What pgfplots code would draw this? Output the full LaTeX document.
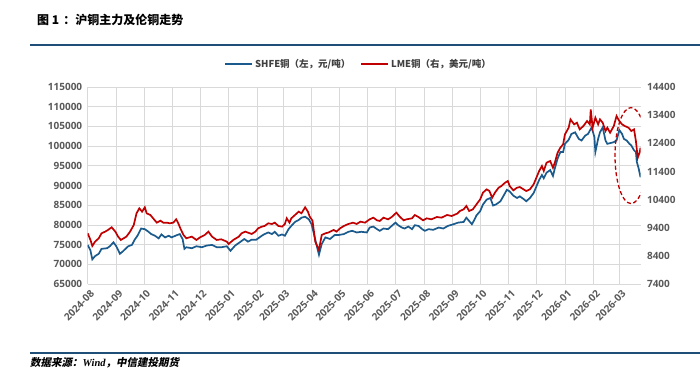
\documentclass[border=0pt]{standalone}
\usepackage{pgfplots}
\pgfplotsset{compat=1.18}
\usepackage{fontspec}
\setmainfont{Open Sans}
\newfontfamily\cjk{Noto Sans CJK SC}
\newfontfamily\cjkslant[FakeSlant=0.2]{Noto Sans CJK SC}
\newfontfamily\timesf{Liberation Serif}
\definecolor{shfe}{HTML}{1A5A8C}
\definecolor{lme}{HTML}{C00000}
\definecolor{gridc}{HTML}{D9D9D9}
\definecolor{tickc}{HTML}{595959}
\definecolor{legc}{HTML}{404040}
\definecolor{rulec}{HTML}{1F4E79}
\begin{document}
\begin{tikzpicture}
\useasboundingbox (0pt,0pt) rectangle (700pt,378pt);
\node[anchor=west, inner sep=0pt, font=\cjk\bfseries\fontsize{12}{14}\selectfont] at (37pt,358pt) {图 1\hspace{4pt}：沪铜主力及伦铜走势};
\draw[rulec, line width=2pt] (30pt,333pt) -- (700pt,333pt);
\draw[rulec, line width=2pt] (30pt,25.5pt) -- (700pt,25.5pt);
\node[anchor=west, inner sep=0pt, font=\cjkslant\bfseries\fontsize{10.5}{12}\selectfont] at (30pt,15pt) {数据来源：{\timesf\bfseries\itshape Wind}，中信建投期货};
\begin{axis}[
  at={(87.7pt,94pt)}, anchor=south west,
  width=552.8pt, height=197pt, scale only axis,
  xmin=0, xmax=600, ymin=65000, ymax=115000,
  xtick={0,31,61,92,122,153,184,212,243,273,304,334,365,396,426,457,487,518,549,577},
  xticklabels={2024-08,2024-09,2024-10,2024-11,2024-12,2025-01,2025-02,2025-03,2025-04,2025-05,2025-06,2025-07,2025-08,2025-09,2025-10,2025-11,2025-12,2026-01,2026-02,2026-03},
  ytick={65000,70000,...,115000},
  yticklabels={65000,70000,75000,80000,85000,90000,95000,100000,105000,110000,115000},
  xmajorgrids, ymajorgrids,
  grid style={gridc, line width=0.8pt},
  axis line style={draw=none},
  major tick length=0pt,
  tick label style={font=\bfseries\fontsize{10}{12}\selectfont, text=tickc},
  scaled y ticks=false,
  xticklabel style={rotate=45, anchor=east, yshift=-9pt, xshift=1pt},
  yticklabel style={xshift=-2pt},
  legend style={draw=none, fill=none, at={(axis description cs:0.49,1.115)}, anchor=center,
    font=\cjk\bfseries\fontsize{9.5}{11}\selectfont, text=legc,
    /tikz/every even column/.append style={column sep=8pt}},
  legend columns=2,
  legend image code/.code={\draw[#1] (0pt,0pt) -- (27pt,0pt);},
]
\addplot[shfe, line width=1.7pt] coordinates {
(0,74900)(3,73500)(5,71250)(8,72080)(12,72670)(15,73920)(21,74080)(24,74580)(28,75580)(31,74580)(35,72670)(38,73250)(41,73920)(44,74580)(48,74920)(51,76250)(54,77250)(58,79080)(62,78920)(66,78250)(69,77670)(73,77250)(77,76580)(80,77580)(84,76830)(88,77250)(91,76830)(97,77420)(100,77670)(103,76420)(105,73920)(107,74330)(113,74080)(118,74580)(124,74330)(129,74750)(135,74920)(140,74330)(145,74330)(151,74580)(155,73420)(160,74750)(165,75580)(170,76420)(174,75750)(178,76250)(183,76250)(189,77250)(192,77670)(196,78080)(200,77670)(203,78250)(207,77250)(211,77580)(214,77250)(218,78920)(221,79750)(225,80750)(229,81250)(232,81830)(236,82080)(240,81420)(243,80170)(246,77250)(249,74330)(251,72420)(254,75170)(258,76830)(263,76420)(268,77420)(272,77420)(278,77670)(283,78250)(287,78500)(292,78080)(297,78250)(303,78080)
(306,79330)(310,79580)(314,78920)(317,78500)(321,79080)(326,78920)(330,79750)(334,80580)(337,79920)(341,79330)(344,79080)(348,79580)(352,78920)(355,79920)(359,79750)(363,78920)(366,78500)(370,78920)(375,78750)(381,79330)(386,79080)(391,79750)(397,80170)(402,80580)(408,80750)(411,81830)(414,81000)(417,80170)(419,81000)(422,82420)(426,83500)(429,85170)(433,86420)(437,86830)(440,84920)(443,85170)(448,86000)(451,87250)(455,88920)(458,88500)(462,87420)(466,86830)(469,87250)(473,86580)(476,86000)(480,86830)(484,88080)(487,89750)(490,91420)(493,92670)(495,91830)(498,93250)(502,93920)(505,92420)(507,94330)(510,96830)(513,98500)(516,98500)(518,100580)(522,101580)(525,103080)(529,103500)(533,101830)(536,101420)(540,102670)(543,103080)(547,104750)(550,102250)(551,98500)(554,101830)(556,103500)(559,104750)(562,101420)(564,100580)(567,100750)(571,101000)(574,101420)(577,104080)(580,103080)(582,101830)(585,101420)(588,100580)(590,100170)(593,98920)(595,98500)(596,96000)(598,94330)(600,92080)
};
\addlegendentry{SHFE铜（左，元/吨）}
\addlegendimage{lme, line width=1.7pt}
\addlegendentry{LME铜（右，美元/吨）}
\draw[lme, line width=1.3pt, dash pattern=on 4pt off 2.5pt] (axis cs:589.7,97600) ellipse [x radius=16pt, y radius=48pt];
\end{axis}
\begin{axis}[
  at={(87.7pt,94pt)}, anchor=south west,
  width=552.8pt, height=197pt, scale only axis,
  xmin=0, xmax=600, ymin=7400, ymax=14400,
  axis x line=none, axis y line*=right,
  ytick={7400,8400,...,14400},
  yticklabels={7400,8400,9400,10400,11400,12400,13400,14400},
  axis line style={draw=none},
  major tick length=0pt,
  tick label style={font=\bfseries\fontsize{10}{12}\selectfont, text=tickc},
  scaled y ticks=false,
  yticklabel style={anchor=west, xshift=3pt},
]
\addplot[lme, line width=1.7pt] coordinates {
(0,9201)(3,8965)(5,8752)(8,8905)(12,9024)(15,9201)(19,9261)(22,9320)(26,9415)(30,9261)(33,9083)(36,8965)(39,9024)(42,9083)(46,9261)(50,9497)(53,9912)(56,10089)(59,9971)(62,10125)(64,9912)(68,9853)(71,9734)(75,9580)(79,9651)(82,9580)(86,9580)(89,9557)(93,9580)(96,9699)(98,9580)(101,9344)(104,9142)(107,9024)(113,9083)(118,8965)(122,9059)(127,9142)(131,9261)(135,9083)(140,8965)(145,8988)(151,8905)(153,8823)(158,8965)(164,9083)(167,9201)(171,9261)(174,9225)(178,9178)(182,9261)(185,9379)(189,9438)(192,9462)(196,9557)(200,9533)(203,9580)(207,9462)(211,9438)(214,9533)(216,9734)(219,9580)(221,9734)(225,9853)(229,9971)(232,9912)(236,10125)(239,9971)(241,9793)(244,9651)(247,8905)(249,8752)(251,8610)(254,9142)(258,9201)(261,9225)(267,9320)(270,9261)(274,9379)(278,9462)(283,9533)(288,9580)(292,9533)(296,9616)(301,9580)
(306,9698)(310,9757)(314,9663)(317,9639)(321,9757)(326,9698)(330,9781)(335,9935)(339,9781)(343,9663)(346,9698)(352,9734)(355,9852)(359,9781)(364,9663)(368,9734)(373,9698)(379,9781)(384,9757)(390,9852)(395,9817)(401,9900)(404,9994)(408,10053)(411,10172)(414,9994)(418,10053)(422,10231)(426,10409)(429,10645)(433,10764)(436,10704)(439,10468)(442,10645)(446,10823)(449,10882)(453,11000)(456,11060)(458,10882)(462,10728)(466,10823)(469,10846)(473,10764)(476,10704)(480,10764)(484,10941)(487,11178)(490,11415)(493,11593)(495,11415)(498,11711)(502,11770)(505,11533)(507,11711)(510,12066)(513,12244)(516,12362)(518,12717)(522,12954)(524,13250)(528,13072)(531,13131)(534,12895)(538,13013)(542,13191)(545,13072)(546,13605)(548,12954)(551,13309)(554,13072)(556,13250)(559,13131)(562,12836)(564,12954)(567,12776)(571,13013)(574,13368)(577,13191)(580,13072)(583,13013)(587,12954)(590,12836)(593,12895)(595,12480)(597,11889)(599,12066)(600,12244)
};
\end{axis}
\end{tikzpicture}
\end{document}
